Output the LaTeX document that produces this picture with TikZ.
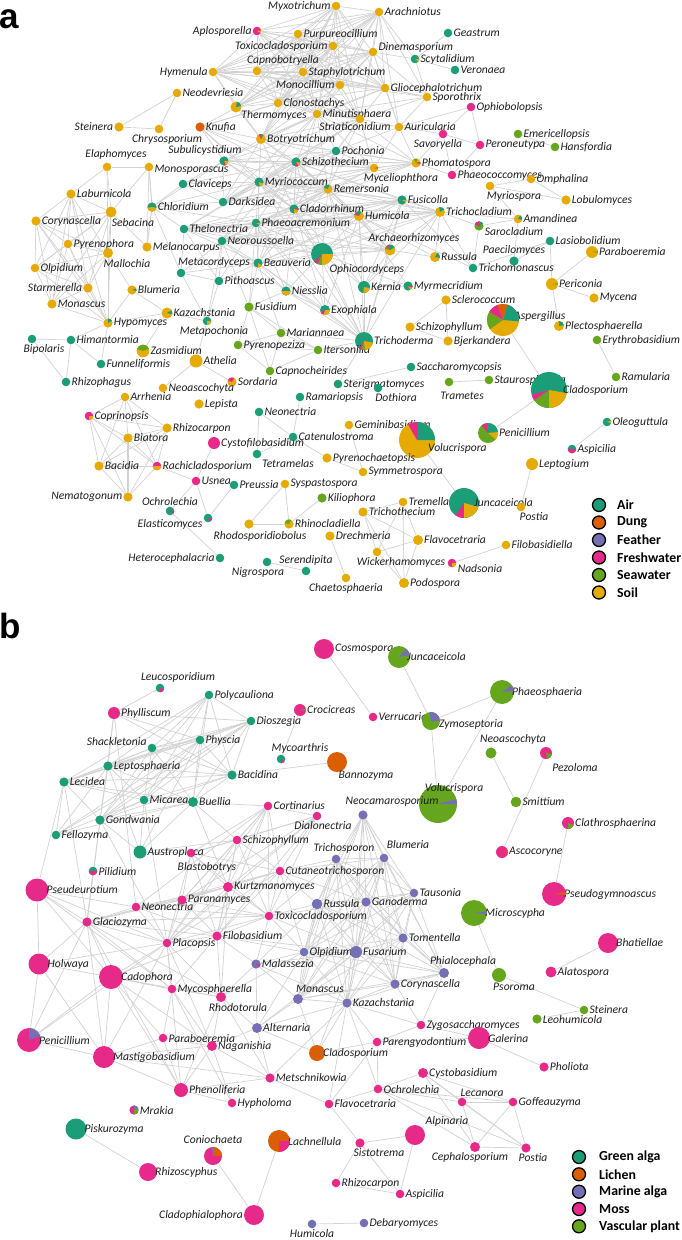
\documentclass[tikz,border=0pt]{standalone}
\usepackage{fontspec}
\setmainfont{Carlito}
\newfontfamily\letterfont{Liberation Sans}
\usetikzlibrary{backgrounds}
\definecolor{air}{HTML}{1B9E77}
\definecolor{dung}{HTML}{D95F02}
\definecolor{feath}{HTML}{7570B3}
\definecolor{fresh}{HTML}{E7298A}
\definecolor{sea}{HTML}{66A61E}
\definecolor{soil}{HTML}{E6AB02}
\definecolor{edgec}{HTML}{D2D2D2}
\tikzset{
  lbl/.style={font=\fontsize{11.6}{13}\selectfont\itshape, inner sep=0.8pt, text=black!88},
  edge/.style={draw=edgec, line width=0.7pt},
  leg/.style={circle, draw=black, line width=1.3pt, minimum size=13pt, inner sep=0pt},
  legtxt/.style={font=\fontsize{13.8}{15}\selectfont\bfseries, anchor=west, inner sep=0pt},
  panel/.style={font=\letterfont\bfseries\fontsize{35}{35}\selectfont, anchor=base west, inner sep=0pt}
}
\newcommand\fnode[8][]{\node[circle,inner sep=0pt,minimum size=#5*2pt,fill=#6,label={[lbl,#1]#7:#8}] (#2) at (#3,#4) {};}
\newcommand\piew[5]{\fill[#5] (#1.center) -- ++(#3:#2pt) arc[start angle=#3,end angle=#4,radius=#2pt] -- cycle;}
\newcommand\hub[2]{\foreach \hh in {#2}{\draw[edge] (#1)--(\hh);}}
\newcommand\mkclique[1]{\foreach \ca [count=\ci] in {#1}{\foreach \cb [count=\cj] in {#1}{\ifnum\cj>\ci\relax\draw[edge] (\ca)--(\cb);\fi}}}
\begin{document}
\begin{tikzpicture}[x=1pt,y=-1pt]
\useasboundingbox (0,0) rectangle (682,1240);
\node[panel] (la) at (-1,28) {a};
\node[panel] (lb) at (-1,638) {b};
% ---------------- panel a nodes ----------------
\fnode{Myxotrichum}{336}{6}{4.3}{soil}{left}{Myxotrichum}
\fnode{Aplosporella}{257}{31}{4.3}{fresh}{left}{Aplosporella}
\fnode{Purpureocillium}{298}{34}{4.3}{soil}{right}{Purpureocillium}
\fnode{Toxicocladosporium}{333}{46}{4.3}{soil}{left}{Toxicocladosporium}
\fnode{Arachniotus}{379}{12}{4.3}{soil}{right}{Arachniotus}
\fnode{Geastrum}{448}{33}{4.3}{air}{right}{Geastrum}
\fnode[yshift=5pt]{Dinemasporium}{373}{52}{4.3}{soil}{right}{Dinemasporium}
\fnode{Scytalidium}{415}{59}{4.3}{air}{right}{Scytalidium}
\fnode{Veronaea}{455}{70}{4.3}{air}{right}{Veronaea}
\fnode[xshift=26pt]{Capnobotryella}{257}{71}{4.3}{soil}{above}{Capnobotryella}
\fnode{Hymenula}{213}{72}{4.3}{soil}{left}{Hymenula}
\fnode{Staphylotrichum}{303}{72}{4.3}{soil}{right}{Staphylotrichum}
\fnode{Monocillium}{340}{85}{4.3}{soil}{left}{Monocillium}
\fnode{Gliocephalotrichum}{385}{88}{4.3}{soil}{right}{Gliocephalotrichum}
\fnode{Neodevriesia}{177}{93}{4.3}{soil}{right}{Neodevriesia}
\fnode{Sporothrix}{427}{97}{4.3}{soil}{right}{Sporothrix}
\fnode{Clonostachys}{278}{103}{4.3}{soil}{right}{Clonostachys}
\fnode[xshift=38pt,yshift=3pt]{Thermomyces}{236}{107}{5.5}{soil}{below}{Thermomyces}
\fnode{Ophiobolopsis}{471}{107}{4.3}{fresh}{right}{Ophiobolopsis}
\fnode{Minutisphaera}{317}{114}{4.3}{soil}{right}{Minutisphaera}
\fnode[xshift=-5pt,yshift=2pt]{Striaticonidium}{360}{119}{4.3}{soil}{below}{Striaticonidium}
\fnode{Steinera}{119}{127}{4.6}{soil}{left}{Steinera}
\fnode{Knufia}{200}{127}{4.6}{dung}{right}{Knufia}
\fnode{Auricularia}{399}{127}{4.3}{soil}{right}{Auricularia}
\fnode[xshift=8pt]{Chrysosporium}{159}{129}{4.3}{soil}{below}{Chrysosporium}
\fnode[xshift=-5pt]{Savoryella}{443}{134}{4.3}{fresh}{below}{Savoryella}
\fnode{Emericellopsis}{518}{134}{4.3}{sea}{right}{Emericellopsis}
\fnode{Botryotrichum}{261}{139}{5}{soil}{right}{Botryotrichum}
\fnode{Peroneutypa}{480}{145}{4.3}{fresh}{right}{Peroneutypa}
\fnode{Hansfordia}{555}{147}{4.3}{sea}{right}{Hansfordia}
\fnode{Pochonia}{336}{151}{4.3}{air}{right}{Pochonia}
\fnode[xshift=-19pt]{Subulicystidium}{224}{161}{4.6}{air}{above}{Subulicystidium}
\fnode{Schizothecium}{296}{162}{4.6}{air}{right}{Schizothecium}
\fnode{Phomatospora}{416}{163}{4.6}{soil}{right}{Phomatospora}
\fnode[xshift=9pt,yshift=2pt]{Elaphomyces}{107}{167}{4.3}{soil}{above}{Elaphomyces}
\fnode[yshift=-3pt]{Monosporascus}{149}{167}{4.3}{soil}{right}{Monosporascus}
\fnode[xshift=27pt]{Myceliophthora}{374}{168}{4.3}{soil}{below}{Myceliophthora}
\fnode{Phaeococcomyces}{452}{175}{4.3}{fresh}{right}{Phaeococcomyces}
\fnode{Omphalina}{531}{179}{4.3}{soil}{right}{Omphalina}
\fnode{Myriococcum}{259}{182}{4.6}{air}{right}{Myriococcum}
\fnode{Claviceps}{183}{184}{4.3}{air}{right}{Claviceps}
\fnode[xshift=24pt]{Myriospora}{490}{186}{4.3}{soil}{below}{Myriospora}
\fnode{Remersonia}{328}{189}{4.6}{soil}{right}{Remersonia}
\fnode{Laburnicola}{71}{194}{4.6}{soil}{right}{Laburnicola}
\fnode{Fusicolla}{402}{200}{4.6}{air}{right}{Fusicolla}
\fnode{Lobulomyces}{566}{200}{4.6}{soil}{right}{Lobulomyces}
\fnode{Darksidea}{223}{202}{4.3}{air}{right}{Darksidea}
\fnode{Chloridium}{152}{207}{4.6}{air}{right}{Chloridium}
\fnode{Cladorrhinum}{294}{209}{4.6}{air}{right}{Cladorrhinum}
\fnode[xshift=22pt]{Sebacina}{111}{212}{5.5}{soil}{below}{Sebacina}
\fnode{Trichocladium}{440}{212}{5}{soil}{right}{Trichocladium}
\fnode{Humicola}{359}{216}{5}{soil}{right}{Humicola}
\fnode{Amandinea}{518}{219}{4.3}{soil}{right}{Amandinea}
\fnode{Corynascella}{36}{221}{4.6}{soil}{right}{Corynascella}
\fnode{Phaeoacremonium}{256}{223}{4.3}{air}{right}{Phaeoacremonium}
\fnode[yshift=-6pt]{Sarocladium}{479}{226}{4.6}{sea}{right}{Sarocladium}
\fnode{Thelonectria}{184}{229}{4.3}{air}{right}{Thelonectria}
\fnode{Neoroussoella}{222}{241}{4.3}{air}{right}{Neoroussoella}
\fnode{Pyrenophora}{68}{244}{4.3}{soil}{right}{Pyrenophora}
\fnode{Lasiobolidium}{550}{241}{4.3}{air}{right}{Lasiobolidium}
\fnode{Melanocarpus}{147}{247}{4.6}{soil}{right}{Melanocarpus}
\fnode[xshift=24pt]{Archaeorhizomyces}{390}{250}{5.5}{soil}{above}{Archaeorhizomyces}
\fnode{Paraboeremia}{592}{252}{6}{soil}{right}{Paraboeremia}
\fnode[xshift=19pt]{Mallochia}{108}{253}{5}{soil}{below}{Mallochia}
\fnode[anchor=north west,xshift=1pt]{Ophiocordyceps}{322}{254}{11}{air}{-60}{Ophiocordyceps}
\fnode{Russula}{435}{257}{5}{soil}{right}{Russula}
\fnode{Paecilomyces}{514}{261}{4.6}{air}{above}{Paecilomyces}
\fnode{Beauveria}{258}{263}{4.6}{air}{right}{Beauveria}
\fnode{Trichomonascus}{473}{268}{4.3}{air}{right}{Trichomonascus}
\fnode{Olpidium}{35}{268}{4.3}{soil}{right}{Olpidium}
\fnode[xshift=33pt]{Metacordyceps}{181}{273}{4.3}{air}{above}{Metacordyceps}
\fnode{Pithoascus}{219}{281}{4.3}{air}{right}{Pithoascus}
\fnode{Periconia}{552}{284}{6}{soil}{right}{Periconia}
\fnode{Myrmecridium}{408}{286}{4.6}{air}{right}{Myrmecridium}
\fnode{Kernia}{364}{287}{6}{air}{right}{Kernia}
\fnode{Starmerella}{88}{288}{4.6}{soil}{left}{Starmerella}
\fnode{Blumeria}{132}{290}{4.6}{soil}{right}{Blumeria}
\fnode{Niesslia}{286}{291}{4.6}{air}{right}{Niesslia}
\fnode{Mycena}{594}{298}{4.6}{soil}{right}{Mycena}
\fnode{Sclerococcum}{446}{300}{4.6}{soil}{right}{Sclerococcum}
\fnode{Monascus}{52}{304}{4.6}{soil}{right}{Monascus}
\fnode{Fusidium}{249}{307}{4.6}{sea}{right}{Fusidium}
\fnode{Exophiala}{325}{310}{5}{air}{right}{Exophiala}
\fnode{Kazachstania}{167}{313}{5.5}{soil}{right}{Kazachstania}
\fnode[xshift=-6pt,yshift=4pt]{Aspergillus}{503}{320}{16}{soil}{right}{Aspergillus}
\fnode[xshift=7pt]{Metapochonia}{207}{321}{4.3}{air}{below}{Metapochonia}
\fnode{Hypomyces}{108}{323}{4.6}{soil}{right}{Hypomyces}
\fnode{Plectosphaerella}{559}{326}{5}{soil}{right}{Plectosphaerella}
\fnode{Schizophyllum}{410}{327}{4.6}{soil}{right}{Schizophyllum}
\fnode{Mariannaea}{281}{333}{4.3}{sea}{right}{Mariannaea}
\fnode[xshift=12pt]{Bipolaris}{32}{339}{4.3}{air}{below}{Bipolaris}
\fnode{Himantormia}{71}{340}{4.3}{air}{right}{Himantormia}
\fnode{Erythrobasidium}{597}{340}{4.3}{sea}{right}{Erythrobasidium}
\fnode{Trichoderma}{364}{341}{9}{air}{right}{Trichoderma}
\fnode{Bjerkandera}{448}{341}{4.6}{soil}{right}{Bjerkandera}
\fnode{Pyrenopeziza}{238}{345}{4.3}{sea}{right}{Pyrenopeziza}
\fnode{Itersonilia}{318}{350}{4.3}{sea}{right}{Itersonilia}
\fnode{Zasmidium}{143}{351}{6.3}{soil}{right}{Zasmidium}
\fnode{Athelia}{196}{361}{6.5}{soil}{right}{Athelia}
\fnode{Funneliformis}{101}{364}{4.3}{air}{right}{Funneliformis}
\fnode{Saccharomycopsis}{411}{367}{4.3}{air}{right}{Saccharomycopsis}
\fnode{Capnocheirides}{270}{371}{4.3}{sea}{right}{Capnocheirides}
\fnode{Ramularia}{616}{377}{4.3}{sea}{right}{Ramularia}
\fnode{Staurosphaeria}{489}{380}{4.3}{sea}{right}{Staurosphaeria}
\fnode{Rhizophagus}{66}{382}{4.3}{air}{right}{Rhizophagus}
\fnode{Sordaria}{232}{382}{4.6}{soil}{right}{Sordaria}
\fnode[xshift=13pt,yshift=-5pt]{Trametes}{449}{382}{4.3}{sea}{below}{Trametes}
\fnode{Sterigmatomyces}{338}{384}{4.3}{air}{right}{Sterigmatomyces}
\fnode{Neoascochyta}{163}{388}{4.3}{soil}{right}{Neoascochyta}
\fnode[xshift=18pt]{Dothiora}{378}{388}{4.3}{air}{below}{Dothiora}
\fnode[xshift=-5pt]{Cladosporium}{549}{390}{18}{air}{right}{Cladosporium}
\fnode{Ramariopsis}{300}{397}{4.3}{air}{right}{Ramariopsis}
\fnode{Arrhenia}{125}{397}{4.3}{soil}{right}{Arrhenia}
\fnode{Lepista}{199}{404}{4.6}{soil}{right}{Lepista}
\fnode{Neonectria}{259}{412}{4.3}{air}{right}{Neonectria}
\fnode{Coprinopsis}{89}{416}{4.3}{fresh}{right}{Coprinopsis}
\fnode{Oleoguttula}{607}{422}{4.3}{air}{right}{Oleoguttula}
\fnode{Geminibasidium}{349}{425}{4.3}{soil}{right}{Geminibasidium}
\fnode{Rhizocarpon}{167}{428}{4.6}{soil}{right}{Rhizocarpon}
\fnode{Penicillium}{488}{433}{10}{sea}{right}{Penicillium}
\fnode{Catenulostroma}{293}{437}{4.3}{air}{right}{Catenulostroma}
\fnode{Biatora}{128}{438}{4.6}{soil}{right}{Biatora}
\fnode[xshift=-8pt,yshift=-8pt]{Volucrispora}{417}{440}{18}{soil}{right}{Volucrispora}
\fnode{Cystofilobasidium}{214}{443}{6}{fresh}{right}{Cystofilobasidium}
\fnode{Aspicilia}{572}{449}{4.3}{air}{right}{Aspicilia}
\fnode[xshift=31pt]{Tetramelas}{257}{454}{4.3}{air}{below}{Tetramelas}
\fnode{Pyrenochaetopsis}{327}{458}{4.6}{soil}{right}{Pyrenochaetopsis}
\fnode{Leptogium}{532}{464}{6}{soil}{right}{Leptogium}
\fnode{Bacidia}{99}{466}{4.6}{soil}{right}{Bacidia}
\fnode{Rachicladosporium}{157}{466}{4.3}{fresh}{right}{Rachicladosporium}
\fnode{Symmetrospora}{363}{472}{4.3}{soil}{right}{Symmetrospora}
\fnode{Usnea}{196}{481}{4.3}{fresh}{right}{Usnea}
\fnode{Syspastospora}{285}{484}{4.3}{soil}{right}{Syspastospora}
\fnode{Preussia}{234}{485}{4.3}{air}{right}{Preussia}
\fnode{Nematogonum}{128}{497}{4.6}{soil}{left}{Nematogonum}
\fnode{Kiliophora}{322}{498}{4.6}{sea}{right}{Kiliophora}
\fnode{Tremella}{403}{502}{4.3}{soil}{right}{Tremella}
\fnode[xshift=-6pt]{Juncaceicola}{464}{503}{15}{air}{right}{Juncaceicola}
\fnode[xshift=13pt]{Postia}{521}{507}{4.3}{soil}{below}{Postia}
\fnode{Ochrolechia}{170}{511}{4.3}{air}{above}{Ochrolechia}
\fnode{Trichothecium}{363}{512}{4.6}{soil}{right}{Trichothecium}
\fnode[yshift=-6pt]{Elasticomyces}{208}{518}{4.3}{air}{left}{Elasticomyces}
\fnode[xshift=11pt,yshift=-2pt]{Rhodosporidiobolus}{249}{524}{4.6}{soil}{below}{Rhodosporidiobolus}
\fnode{Rhinocladiella}{289}{524}{4.6}{soil}{right}{Rhinocladiella}
\fnode{Drechmeria}{330}{536}{4.6}{soil}{right}{Drechmeria}
\fnode{Flavocetraria}{418}{540}{5}{soil}{right}{Flavocetraria}
\fnode{Filobasidiella}{506}{545}{4.3}{soil}{right}{Filobasidiella}
\fnode[xshift=24pt]{Wickerhamomyces}{377}{552}{4.3}{soil}{below}{Wickerhamomyces}
\fnode{Heterocephalacria}{220}{558}{4.3}{air}{left}{Heterocephalacria}
\fnode[xshift=-9pt]{Nigrospora}{267}{562}{4.3}{air}{below}{Nigrospora}
\fnode[xshift=28pt,yshift=4pt]{Nadsonia}{452}{563}{4.3}{fresh}{below}{Nadsonia}
\fnode{Serendipita}{306}{571}{4.3}{air}{above}{Serendipita}
\fnode{Chaetosphaeria}{346}{578}{4.3}{soil}{below}{Chaetosphaeria}
\fnode{Podospora}{404}{583}{5}{soil}{right}{Podospora}
% pies a
\piew{Aplosporella}{4.3}{-30}{10}{soil}
\piew{Thermomyces}{5.5}{10}{80}{air}
\piew{Botryotrichum}{5}{60}{100}{air}\piew{Botryotrichum}{5}{100}{120}{fresh}
\piew{Subulicystidium}{4.6}{-70}{0}{soil}\piew{Subulicystidium}{4.6}{-90}{-70}{fresh}
\piew{Schizothecium}{4.6}{-60}{-10}{soil}\piew{Schizothecium}{4.6}{-95}{-60}{fresh}
\piew{Myriococcum}{4.6}{-80}{-20}{soil}
\piew{Remersonia}{4.6}{70}{160}{air}
\piew{Chloridium}{4.6}{190}{350}{soil}
\piew{Cladorrhinum}{4.6}{-90}{-10}{soil}\piew{Cladorrhinum}{4.6}{-10}{10}{fresh}
\piew{Humicola}{5}{60}{130}{air}\piew{Humicola}{5}{130}{165}{fresh}
\piew{Trichocladium}{5}{30}{100}{air}
\piew{Amandinea}{4.3}{-10}{60}{air}
\piew{Sarocladium}{4.6}{30}{90}{air}\piew{Sarocladium}{4.6}{90}{160}{fresh}
\piew{Archaeorhizomyces}{5.5}{30}{100}{air}\piew{Archaeorhizomyces}{5.5}{100}{135}{fresh}\piew{Archaeorhizomyces}{5.5}{135}{170}{sea}
\piew{Russula}{5}{-10}{60}{air}
\piew{Kernia}{6}{-90}{-10}{soil}\piew{Kernia}{6}{-110}{-90}{sea}
\piew{Myrmecridium}{4.6}{-60}{-20}{soil}\piew{Myrmecridium}{4.6}{-20}{0}{fresh}
\piew{Beauveria}{4.6}{-90}{-30}{soil}
\piew{Niesslia}{4.6}{180}{360}{soil}
\piew{Exophiala}{5}{250}{360}{soil}\piew{Exophiala}{5}{200}{250}{fresh}
\piew{Blumeria}{4.6}{-10}{20}{air}
\piew{Kazachstania}{5.5}{-15}{30}{air}
\piew{Metapochonia}{4.3}{-90}{0}{soil}
\piew{Hypomyces}{4.6}{30}{90}{air}
\piew{Zasmidium}{6.3}{20}{160}{sea}
\piew{Sordaria}{4.6}{60}{160}{fresh}
\piew{Plectosphaerella}{5}{10}{90}{air}
\piew{Coprinopsis}{4.3}{-90}{0}{soil}
\piew{Rachicladosporium}{4.3}{180}{360}{soil}
\piew{Ochrolechia}{4.3}{-40}{0}{fresh}
\piew{Elasticomyces}{4.3}{-60}{-10}{fresh}
\piew{Rhinocladiella}{4.6}{60}{170}{sea}
\piew{Aspicilia}{4.3}{180}{360}{fresh}
\piew{Oleoguttula}{4.3}{-15}{20}{soil}
\piew{Nadsonia}{4.3}{-90}{0}{soil}
\piew{Phomatospora}{4.6}{70}{120}{sea}\piew{Phomatospora}{4.6}{-15}{15}{fresh}
\piew{Myceliophthora}{4.3}{-10}{10}{fresh}
\piew{Scytalidium}{4.3}{-40}{0}{soil}
\piew{Fusicolla}{4.6}{-30}{0}{soil}
\piew{Phaeoacremonium}{4.3}{-30}{0}{soil}
\piew{Periconia}{6}{-5}{5}{air}
\piew{Paraboeremia}{6}{-5}{5}{air}
\piew{Aspergillus}{16}{-5}{75}{air}\piew{Aspergillus}{16}{75}{110}{dung}\piew{Aspergillus}{16}{110}{150}{fresh}\piew{Aspergillus}{16}{150}{215}{sea}
\piew{Cladosporium}{18}{195}{215}{fresh}\piew{Cladosporium}{18}{215}{270}{sea}\piew{Cladosporium}{18}{270}{350}{soil}
\piew{Volucrispora}{18}{0}{90}{air}\piew{Volucrispora}{18}{90}{120}{fresh}
\piew{Juncaceicola}{15}{235}{270}{fresh}\piew{Juncaceicola}{15}{270}{345}{soil}
\piew{Penicillium}{10}{5}{95}{air}\piew{Penicillium}{10}{95}{130}{fresh}\piew{Penicillium}{10}{-40}{5}{soil}
\piew{Ophiocordyceps}{11}{225}{245}{fresh}\piew{Ophiocordyceps}{11}{245}{270}{sea}\piew{Ophiocordyceps}{11}{270}{360}{soil}
\piew{Trichoderma}{9}{235}{250}{fresh}\piew{Trichoderma}{9}{250}{275}{sea}\piew{Trichoderma}{9}{275}{350}{soil}
% ---------------- panel b nodes ----------------
\fnode{bCosmospora}{324}{649}{10}{fresh}{right}{Cosmospora}
\fnode[xshift=-4pt]{bJuncaceicola}{399}{657}{11}{sea}{right}{Juncaceicola}
\fnode[xshift=18pt]{bLeucosporidium}{160}{688}{4.3}{air}{above}{Leucosporidium}
\fnode[xshift=-3pt]{bPhaeosphaeria}{502}{692}{12}{sea}{right}{Phaeosphaeria}
\fnode{bPolycauliona}{209}{695}{4.3}{air}{right}{Polycauliona}
\fnode{bCrocicreas}{300}{710}{6}{fresh}{right}{Crocicreas}
\fnode{bPhylliscum}{114}{713}{6}{fresh}{right}{Phylliscum}
\fnode{bVerrucaria}{373}{717}{4.3}{fresh}{right}{Verrucaria}
\fnode[xshift=-2pt,yshift=-3pt]{bZymoseptoria}{431}{721}{9}{sea}{right}{Zymoseptoria}
\fnode{bDioszegia}{251}{721}{4.3}{air}{right}{Dioszegia}
\fnode{bPhyscia}{200}{740}{4.3}{air}{right}{Physcia}
\fnode[yshift=6pt]{bShackletonia}{152}{748}{4.3}{air}{left}{Shackletonia}
\fnode[xshift=22pt,yshift=2pt]{bNeoascochyta}{491}{753}{5.5}{sea}{above}{Neoascochyta}
\fnode[xshift=29pt,yshift=-3pt]{bPezoloma}{546}{753}{6}{fresh}{below}{Pezoloma}
\fnode[xshift=19pt]{bMycoarthris}{281}{759}{4.3}{air}{above}{Mycoarthris}
\fnode[xshift=29pt,yshift=2pt]{bBannozyma}{337}{762}{10}{dung}{below}{Bannozyma}
\fnode{bLeptosphaeria}{108}{766}{4.6}{air}{right}{Leptosphaeria}
\fnode{bBacidina}{232}{775}{4.6}{air}{right}{Bacidina}
\fnode{bLecidea}{64}{782}{4.6}{air}{right}{Lecidea}
\fnode{bMicarea}{144}{800}{4.3}{air}{right}{Micarea}
\fnode{bBuellia}{193}{802}{5}{air}{right}{Buellia}
\fnode[xshift=16pt,yshift=-10pt]{bVolucrispora}{438}{804}{19}{sea}{above}{Volucrispora}
\fnode{bSmittium}{516}{802}{5.3}{sea}{right}{Smittium}
\fnode{bCortinarius}{268}{806}{4.3}{fresh}{right}{Cortinarius}
\fnode[xshift=29pt,yshift=3pt]{bNeocamarosporium}{363}{815}{4.6}{feath}{above}{Neocamarosporium}
\fnode[xshift=6pt]{bDialonectria}{317}{816}{4.3}{fresh}{below}{Dialonectria}
\fnode{bGondwania}{100}{820}{4.6}{air}{right}{Gondwania}
\fnode{bClathrosphaerina}{568}{823}{6}{fresh}{right}{Clathrosphaerina}
\fnode{bFellozyma}{56}{835}{4.3}{air}{right}{Fellozyma}
\fnode{bSchizophyllum}{237}{840}{4.3}{fresh}{right}{Schizophyllum}
\fnode{bAscocoryne}{502}{852}{6}{fresh}{right}{Ascocoryne}
\fnode{bAustroplaca}{140}{852}{6.5}{air}{right}{Austroplaca}
\fnode[xshift=16pt,yshift=-4pt]{bBlastobotrys}{191}{853}{4.3}{fresh}{below}{Blastobotrys}
\fnode[xshift=24pt,yshift=4pt]{bBlumeria}{384}{858}{4.3}{feath}{above}{Blumeria}
\fnode[xshift=8pt]{bTrichosporon}{336}{859}{4.3}{feath}{above}{Trichosporon}
\fnode{bPilidium}{93}{871}{4.3}{air}{right}{Pilidium}
\fnode{bCutaneotrichosporon}{280}{871}{4.3}{fresh}{right}{Cutaneotrichosporon}
\fnode{bKurtzmanomyces}{228}{887}{5}{fresh}{right}{Kurtzmanomyces}
\fnode[xshift=-3pt]{bPseudeurotium}{37}{890}{11.5}{fresh}{right}{Pseudeurotium}
\fnode{bTausonia}{414}{893}{4.3}{feath}{right}{Tausonia}
\fnode[xshift=-3pt]{bPseudogymnoascus}{554}{894}{12}{fresh}{right}{Pseudogymnoascus}
\fnode{bParanamyces}{182}{900}{4.6}{fresh}{right}{Paranamyces}
\fnode{bGanoderma}{366}{902}{4.6}{feath}{right}{Ganoderma}
\fnode{bRussula}{317}{904}{5.3}{feath}{right}{Russula}
\fnode{bNeonectria}{136}{907}{4.3}{fresh}{right}{Neonectria}
\fnode[xshift=-3pt]{bMicroscypha}{474}{913}{13}{sea}{right}{Microscypha}
\fnode{bToxicocladosporium}{269}{916}{4.3}{fresh}{right}{Toxicocladosporium}
\fnode{bGlaciozyma}{87}{922}{4.6}{fresh}{right}{Glaciozyma}
\fnode{bFilobasidium}{217}{936}{4.6}{fresh}{right}{Filobasidium}
\fnode{bTomentella}{403}{938}{4.6}{feath}{right}{Tomentella}
\fnode{bPlacopsis}{167}{943}{4.3}{fresh}{right}{Placopsis}
\fnode[xshift=-3pt]{bBhatiellae}{608}{943}{10}{fresh}{right}{Bhatiellae}
\fnode{bOlpidium}{304}{952}{4.3}{feath}{right}{Olpidium}
\fnode{bFusarium}{356}{952}{6}{feath}{right}{Fusarium}
\fnode[xshift=-3pt]{bHolwaya}{39}{964}{10.5}{fresh}{right}{Holwaya}
\fnode{bMalassezia}{256}{964}{4.6}{feath}{right}{Malassezia}
\fnode{bAlatospora}{551}{972}{5.5}{fresh}{right}{Alatospora}
\fnode[xshift=19pt]{bPhialocephala}{444}{973}{5}{feath}{above}{Phialocephala}
\fnode[xshift=15pt]{bPsoroma}{499}{975}{7}{sea}{below}{Psoroma}
\fnode[xshift=-3pt]{bCadophora}{111}{977}{12}{fresh}{right}{Cadophora}
\fnode{bCorynascella}{395}{984}{4.6}{feath}{right}{Corynascella}
\fnode{bMycosphaerella}{172}{989}{4.3}{fresh}{right}{Mycosphaerella}
\fnode[xshift=17pt]{bRhodotorula}{221}{997}{5}{fresh}{below}{Rhodotorula}
\fnode[xshift=22pt]{bMonascus}{298}{999}{5}{feath}{above}{Monascus}
\fnode{bKazachstania}{347}{1003}{4.6}{feath}{right}{Kazachstania}
\fnode{bSteinera}{584}{1010}{4.3}{sea}{right}{Steinera}
\fnode{bLeohumicola}{537}{1019}{4.6}{sea}{right}{Leohumicola}
\fnode{bZygosaccharomyces}{421}{1025}{4.3}{fresh}{right}{Zygosaccharomyces}
\fnode{bAlternaria}{257}{1028}{5}{feath}{right}{Alternaria}
\fnode[xshift=-3pt]{bGalerina}{479}{1038}{11}{fresh}{right}{Galerina}
\fnode[xshift=-3pt]{bPenicillium}{29}{1040}{12}{fresh}{right}{Penicillium}
\fnode{bParaboeremia}{163}{1038}{4.3}{fresh}{right}{Paraboeremia}
\fnode{bParengyodontium}{377}{1042}{4.3}{fresh}{right}{Parengyodontium}
\fnode{bNaganishia}{212}{1046}{5}{fresh}{right}{Naganishia}
\fnode[xshift=-3pt]{bCladosporium}{317}{1053}{8}{dung}{right}{Cladosporium}
\fnode[xshift=-3pt]{bMastigobasidium}{104}{1057}{11}{fresh}{right}{Mastigobasidium}
\fnode{bPholiota}{544}{1067}{4.6}{fresh}{right}{Pholiota}
\fnode{bCystobasidium}{423}{1073}{5}{fresh}{right}{Cystobasidium}
\fnode{bMetschnikowia}{270}{1078}{4.6}{fresh}{right}{Metschnikowia}
\fnode{bOchrolechia}{378}{1089}{4.3}{fresh}{right}{Ochrolechia}
\fnode{bPhenoliferia}{181}{1090}{7}{fresh}{right}{Phenoliferia}
\fnode[xshift=20pt]{bLecanora}{462}{1102}{4.3}{fresh}{above}{Lecanora}
\fnode{bGoffeauzyma}{513}{1102}{4.3}{fresh}{right}{Goffeauzyma}
\fnode{bHypholoma}{232}{1103}{4.3}{fresh}{right}{Hypholoma}
\fnode{bFlavocetraria}{329}{1104}{4.3}{fresh}{right}{Flavocetraria}
\fnode{bMrakia}{134}{1110}{4.6}{fresh}{right}{Mrakia}
\fnode[xshift=-3pt]{bPiskurozyma}{76}{1129}{10.5}{air}{right}{Piskurozyma}
\fnode[xshift=32pt,yshift=-3pt]{bAlpinaria}{415}{1135}{10}{fresh}{above}{Alpinaria}
\fnode[xshift=-3pt]{bLachnellula}{279}{1141}{11}{dung}{right}{Lachnellula}
\fnode[xshift=19pt]{bSistotrema}{360}{1143}{4.6}{fresh}{below}{Sistotrema}
\fnode[xshift=-5pt,yshift=1pt]{bCephalosporium}{475}{1147}{5}{fresh}{below}{Cephalosporium}
\fnode[xshift=7pt]{bPostia}{526}{1148}{4.6}{fresh}{below}{Postia}
\fnode[yshift=2pt]{bConiochaeta}{213}{1156}{9}{fresh}{above}{Coniochaeta}
\fnode[xshift=-3pt]{bRhizoscyphus}{148}{1172}{9}{fresh}{right}{Rhizoscyphus}
\fnode{bRhizocarpon}{336}{1183}{4.3}{fresh}{right}{Rhizocarpon}
\fnode{bAspicilia}{400}{1194}{4.3}{fresh}{right}{Aspicilia}
\fnode{bCladophialophora}{254}{1215}{10}{fresh}{left}{Cladophialophora}
\fnode{bHumicola}{312}{1224}{4.3}{feath}{below}{Humicola}
\fnode{bDebaryomyces}{364}{1223}{4.3}{feath}{right}{Debaryomyces}
% pies b
\piew{bJuncaceicola}{11}{10}{50}{feath}
\piew{bPhaeosphaeria}{12}{5}{35}{feath}
\piew{bZymoseptoria}{9}{0}{100}{feath}
\piew{bVolucrispora}{19}{0}{15}{feath}
\piew{bMicroscypha}{13}{-5}{8}{feath}
\piew{bPseudogymnoascus}{12}{-5}{10}{dung}
\piew{bPenicillium}{12}{20}{90}{feath}
\piew{bConiochaeta}{9}{0}{90}{dung}\piew{bConiochaeta}{9}{90}{100}{feath}
\piew{bLachnellula}{11}{-90}{0}{fresh}
\piew{bClathrosphaerina}{6}{-90}{-20}{sea}
\piew{bPezoloma}{6}{-80}{-10}{sea}
\piew{bMrakia}{4.6}{20}{90}{feath}\piew{bMrakia}{4.6}{-90}{20}{sea}
\piew{bMycoarthris}{4.3}{-90}{-30}{fresh}
\piew{bLeucosporidium}{4.3}{-90}{-20}{fresh}
\piew{bPilidium}{4.3}{180}{360}{fresh}
\piew{bMalassezia}{4.6}{-40}{-10}{fresh}
\piew{bCladosporium}{8}{-5}{5}{feath}
\piew{bCrocicreas}{6}{-10}{10}{sea}
\piew{bAscocoryne}{6}{-5}{15}{dung}
% ---------------- edges ----------------
\begin{pgfonlayer}{background}
% panel a
\mkclique{Myxotrichum,Aplosporella,Purpureocillium,Toxicocladosporium,Capnobotryella,Hymenula,Staphylotrichum,Monocillium,Clonostachys,Minutisphaera,Striaticonidium,Arachniotus,Dinemasporium,Gliocephalotrichum}
\hub{Sporothrix}{Arachniotus,Dinemasporium,Gliocephalotrichum,Staphylotrichum,Monocillium,Scytalidium,Auricularia,Minutisphaera,Striaticonidium}
\hub{Thermomyces}{Myxotrichum,Purpureocillium,Toxicocladosporium,Staphylotrichum,Monocillium,Arachniotus,Dinemasporium,Hymenula,Clonostachys,Botryotrichum}
\hub{Botryotrichum}{Myxotrichum,Staphylotrichum,Monocillium,Arachniotus,Gliocephalotrichum,Clonostachys,Hymenula,Toxicocladosporium}
\hub{Knufia}{Staphylotrichum,Monocillium,Clonostachys,Schizothecium,Botryotrichum,Myriococcum,Remersonia,Subulicystidium,Cladorrhinum}
\hub{Auricularia}{Gliocephalotrichum,Dinemasporium,Arachniotus,Savoryella,Ophiobolopsis,Myceliophthora,Phomatospora,Striaticonidium,Pochonia}
\hub{Scytalidium}{Geastrum,Veronaea,Arachniotus,Dinemasporium}
\hub{Neodevriesia}{Steinera,Chrysosporium}
\hub{Steinera}{Chrysosporium}
\mkclique{Subulicystidium,Botryotrichum,Schizothecium,Myriococcum,Remersonia,Pochonia,Cladorrhinum,Darksidea,Striaticonidium,Myceliophthora,Phomatospora,Minutisphaera}
\mkclique{Cladorrhinum,Phaeoacremonium,Humicola,Fusicolla,Trichocladium,Archaeorhizomyces,Beauveria,Ophiocordyceps,Thelonectria,Neoroussoella,Remersonia,Myriococcum,Schizothecium}
\hub{Chloridium}{Darksidea,Claviceps,Thelonectria,Subulicystidium,Myriococcum,Phaeoacremonium,Monosporascus,Melanocarpus,Metacordyceps}
\hub{Claviceps}{Darksidea,Subulicystidium,Schizothecium,Myriococcum}
\hub{Trichoderma}{Ophiocordyceps,Beauveria,Humicola,Archaeorhizomyces,Cladorrhinum,Phaeoacremonium,Trichocladium,Fusicolla,Niesslia,Kernia,Itersonilia,Exophiala,Remersonia,Myriococcum,Sterigmatomyces,Mariannaea}
\hub{Kernia}{Ophiocordyceps,Humicola,Fusicolla,Trichocladium,Archaeorhizomyces,Cladorrhinum,Myrmecridium,Remersonia}
\hub{Exophiala}{Ophiocordyceps,Beauveria,Niesslia,Phaeoacremonium,Cladorrhinum,Humicola}
\hub{Niesslia}{Beauveria,Ophiocordyceps,Neoroussoella,Phaeoacremonium,Cladorrhinum}
\hub{Fusidium}{Beauveria,Mariannaea,Capnocheirides,Pyrenopeziza,Niesslia,Neoroussoella,Phaeoacremonium,Itersonilia}
\hub{Mariannaea}{Itersonilia,Capnocheirides,Pyrenopeziza,Beauveria}
\hub{Itersonilia}{Capnocheirides,Pyrenopeziza}
\hub{Pyrenopeziza}{Capnocheirides}
\hub{Metapochonia}{Pithoascus,Metacordyceps,Kazachstania,Neoroussoella,Athelia}
\hub{Pithoascus}{Metacordyceps,Neoroussoella,Beauveria,Thelonectria,Phaeoacremonium}
\hub{Metacordyceps}{Thelonectria,Neoroussoella,Beauveria}
\hub{Sarocladium}{Trichocladium,Amandinea,Trichomonascus}
\hub{Trichomonascus}{Lasiobolidium,Trichocladium,Humicola,Fusicolla}
\hub{Amandinea}{Myriospora,Paecilomyces,Trichocladium}
\hub{Lasiobolidium}{Paecilomyces,Periconia}
\hub{Periconia}{Paraboeremia,Mycena,Plectosphaerella}
\hub{Russula}{Archaeorhizomyces,Trichocladium,Humicola}
\hub{Myrmecridium}{Humicola,Ophiocordyceps}
\hub{Myriospora}{Omphalina,Lobulomyces}
\hub{Omphalina}{Lobulomyces}
\hub{Phaeococcomyces}{Savoryella,Peroneutypa,Phomatospora}
\hub{Savoryella}{Ophiobolopsis,Peroneutypa,Phomatospora}
\hub{Ophiobolopsis}{Peroneutypa}
\hub{Emericellopsis}{Hansfordia}
\mkclique{Laburnicola,Corynascella,Sebacina,Pyrenophora,Mallochia,Olpidium,Starmerella,Monascus,Hypomyces}
\hub{Elaphomyces}{Monosporascus,Sebacina,Laburnicola,Mallochia}
\hub{Monosporascus}{Melanocarpus,Sebacina,Chloridium}
\hub{Melanocarpus}{Chloridium,Sebacina}
\hub{Hypomyces}{Blumeria,Kazachstania,Himantormia,Funneliformis}
\hub{Blumeria}{Kazachstania,Mallochia}
\hub{Kazachstania}{Zasmidium}
\hub{Bipolaris}{Himantormia,Rhizophagus}
\hub{Himantormia}{Funneliformis,Rhizophagus}
\hub{Athelia}{Sordaria,Neoascochyta}
\hub{Arrhenia}{Coprinopsis,Biatora,Bacidia,Rachicladosporium,Rhizocarpon}
\mkclique{Coprinopsis,Rhizocarpon,Biatora,Bacidia,Rachicladosporium,Nematogonum}
\draw[edge,line width=1.6pt] (Biatora)--(Nematogonum);
\hub{Usnea}{Rachicladosporium,Cystofilobasidium,Ochrolechia,Elasticomyces}
\hub{Elasticomyces}{Preussia}
\hub{Ochrolechia}{Heterocephalacria}
\hub{Catenulostroma}{Neonectria,Tetramelas,Ramariopsis,Pyrenochaetopsis}
\hub{Neonectria}{Tetramelas}
\hub{Symmetrospora}{Geminibasidium,Pyrenochaetopsis}
\hub{Syspastospora}{Rhodosporidiobolus,Rhinocladiella}
\hub{Rhinocladiella}{Rhodosporidiobolus,Kiliophora}
\hub{Nigrospora}{Serendipita}
\hub{Drechmeria}{Chaetosphaeria}
\mkclique{Tremella,Trichothecium,Flavocetraria,Wickerhamomyces,Podospora}
\hub{Nadsonia}{Filobasidiella}
\hub{Volucrispora}{Juncaceicola}
\hub{Leptogium}{Postia}
\hub{Oleoguttula}{Aspicilia}
\hub{Cladosporium}{Penicillium,Aspergillus}
\hub{Sclerococcum}{Schizophyllum,Bjerkandera}
\hub{Schizophyllum}{Bjerkandera}
\hub{Staurosphaeria}{Trametes}
\hub{Erythrobasidium}{Ramularia}
\hub{Saccharomycopsis}{Sterigmatomyces}
% panel b
\mkclique{bPolycauliona,bDioszegia,bPhyscia,bShackletonia,bLeptosphaeria,bLecidea,bBacidina,bMicarea,bBuellia,bGondwania}
\hub{bPhylliscum}{bPhyscia,bDioszegia,bLeptosphaeria,bBacidina,bLeucosporidium,bNeonectria,bGlaciozyma}
\hub{bFellozyma}{bLecidea,bLeptosphaeria,bMicarea,bBuellia,bPhyscia,bDioszegia}
\hub{bAustroplaca}{bBuellia,bMicarea,bGondwania,bLeptosphaeria,bPhyscia,bSchizophyllum,bBlastobotrys}
\hub{bBacidina}{bBannozyma}
\hub{bCrocicreas}{bMycoarthris}
\hub{bCosmospora}{bVerrucaria}
\hub{bLecidea}{bPseudeurotium,bGlaciozyma}
\hub{bGondwania}{bPlacopsis,bGlaciozyma}
\hub{bBuellia}{bCortinarius,bSchizophyllum,bKurtzmanomyces}
\hub{bMicarea}{bPlacopsis}
\mkclique{bSchizophyllum,bBlastobotrys,bCutaneotrichosporon,bKurtzmanomyces,bParanamyces,bToxicocladosporium,bFilobasidium,bPlacopsis,bCortinarius,bDialonectria}
\mkclique{bTrichosporon,bBlumeria,bRussula,bGanoderma,bTausonia,bOlpidium,bFusarium,bTomentella,bPhialocephala,bCorynascella,bMonascus,bKazachstania,bNeocamarosporium}
\hub{bToxicocladosporium}{bRussula,bOlpidium,bFusarium,bMalassezia,bGanoderma,bTrichosporon,bNeonectria,bGlaciozyma}
\hub{bCutaneotrichosporon}{bTrichosporon,bRussula,bGanoderma,bBlumeria,bOlpidium}
\hub{bFilobasidium}{bOlpidium,bMalassezia,bFusarium,bGlaciozyma,bNeonectria}
\hub{bMalassezia}{bOlpidium,bFusarium,bMonascus,bAlternaria,bRussula,bKazachstania}
\hub{bRhodotorula}{bPlacopsis,bFilobasidium,bMycosphaerella,bMalassezia,bOlpidium,bAlternaria,bPhenoliferia,bGlaciozyma,bNaganishia,bMetschnikowia,bKurtzmanomyces}
\hub{bMycosphaerella}{bPlacopsis,bGlaciozyma,bFilobasidium,bNaganishia,bParaboeremia,bCadophora,bHypholoma}
\hub{bGlaciozyma}{bPseudeurotium,bHolwaya,bCadophora,bPlacopsis,bNeonectria,bPilidium,bMastigobasidium,bPenicillium,bKurtzmanomyces,bParanamyces,bPhenoliferia,bCutaneotrichosporon}
\hub{bNeonectria}{bParanamyces,bKurtzmanomyces,bPlacopsis,bCortinarius}
\hub{bPseudeurotium}{bHolwaya,bCadophora,bPlacopsis,bMycosphaerella,bNeonectria}
\hub{bHolwaya}{bCadophora,bPenicillium,bMastigobasidium,bPlacopsis}
\hub{bCadophora}{bMycosphaerella,bPhenoliferia,bMastigobasidium,bPenicillium,bPlacopsis,bRhodotorula,bParaboeremia,bFilobasidium,bNaganishia}
\hub{bPenicillium}{bMastigobasidium,bPlacopsis}
\hub{bMastigobasidium}{bPhenoliferia,bParaboeremia,bNaganishia,bMetschnikowia,bPlacopsis}
\hub{bPhenoliferia}{bParaboeremia,bNaganishia,bHypholoma,bMetschnikowia,bPlacopsis}
\hub{bNaganishia}{bParaboeremia,bMetschnikowia,bHypholoma,bAlternaria,bPlacopsis}
\hub{bAlternaria}{bKazachstania,bMonascus,bMetschnikowia,bFusarium,bOlpidium}
\hub{bKazachstania}{bCladosporium,bZygosaccharomyces,bParengyodontium,bFlavocetraria,bOchrolechia,bMetschnikowia}
\hub{bCladosporium}{bMonascus,bParengyodontium,bAlternaria,bFusarium}
\hub{bZygosaccharomyces}{bGalerina,bParengyodontium,bCorynascella,bPhialocephala}
\hub{bGalerina}{bPholiota,bParengyodontium}
\hub{bParengyodontium}{bFlavocetraria,bOchrolechia}
\hub{bFlavocetraria}{bOchrolechia,bMetschnikowia,bSistotrema}
\mkclique{bOchrolechia,bCystobasidium,bLecanora,bGoffeauzyma,bCephalosporium,bPostia}
\hub{bAlpinaria}{bSistotrema,bAspicilia}
\hub{bSistotrema}{bRhizocarpon,bAspicilia}
\hub{bRhizocarpon}{bAspicilia}
\hub{bHumicola}{bDebaryomyces}
\hub{bCladophialophora}{bLachnellula,bConiochaeta}
\hub{bPiskurozyma}{bRhizoscyphus}
\hub{bMicroscypha}{bPsoroma}
\hub{bSteinera}{bPsoroma,bLeohumicola}
\hub{bBhatiellae}{bAlatospora}
\hub{bClathrosphaerina}{bPseudogymnoascus}
\hub{bPezoloma}{bAscocoryne}
\hub{bNeoascochyta}{bSmittium}
\hub{bZymoseptoria}{bJuncaceicola,bPhaeosphaeria,bVolucrispora}
\hub{bPhaeosphaeria}{bVolucrispora}
\end{pgfonlayer}
% ---------------- legends ----------------
\foreach \nm/\cl/\yy in {Air/air/505,Dung/dung/522.5,Feather/feath/540,Freshwater/fresh/557.5,Seawater/sea/575,Soil/soil/592.5}{
  \node[leg,fill=\cl] (lga\nm) at (599,\yy) {};
  \node[legtxt] (lgat\nm) at (617,\yy) {\nm};
}
\foreach \nm/\cl/\yy [count=\k] in {Green alga/air/1157,Lichen/dung/1174.3,Marine alga/feath/1191.7,Moss/fresh/1209,Vascular plant/sea/1226.3}{
  \node[leg,fill=\cl] (lgb\k) at (579,\yy) {};
  \node[legtxt] (lgbt\k) at (599,\yy) {\nm};
}
\end{tikzpicture}
\end{document}
